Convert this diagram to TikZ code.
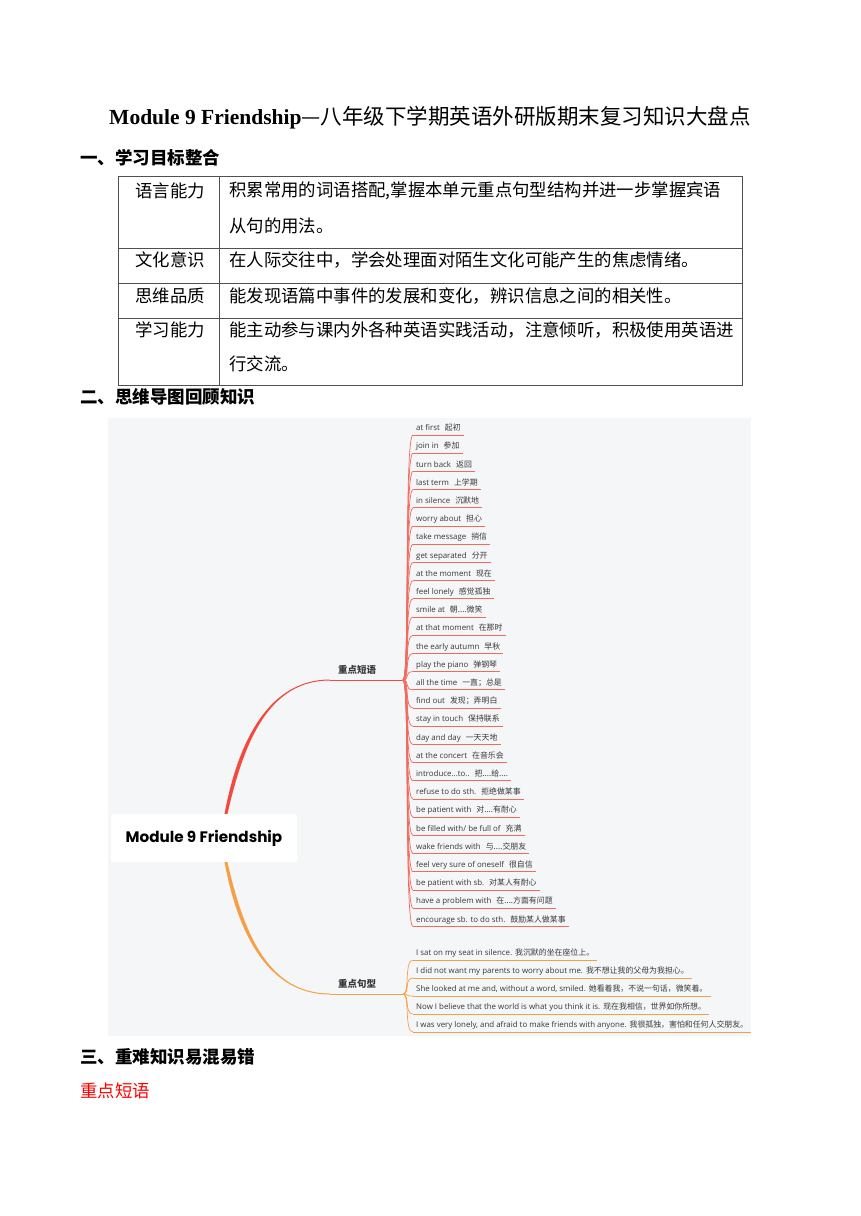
\documentclass[tikz,border=0pt]{standalone}
\usepackage{fontspec}
\setmainfont{Liberation Serif}
\newfontfamily\cjk{Noto Sans CJK SC}
\newfontfamily\mapsans{Open Sans}
\newfontfamily\hubsans{Poppins}
\definecolor{mapred}{HTML}{F24A3E}
\definecolor{mapredlt}{HTML}{F3695E}
\definecolor{maporange}{HTML}{F5A047}
\definecolor{mapbg}{HTML}{F5F6F8}
\definecolor{maptext}{HTML}{383838}
\definecolor{gridline}{HTML}{505050}
\begin{document}
\begin{tikzpicture}[x=1pt, y=-1pt,
    heading/.style={anchor=west, inner sep=0pt, font=\cjk\bfseries\fontsize{17.5}{20}\selectfont},
    cell/.style={anchor=west, inner sep=0pt, font=\cjk\fontsize{17.4}{20}\selectfont},
    hub/.style={fill=white, rounded corners=2pt, minimum width=186pt, minimum height=48pt,
      font=\hubsans\bfseries\fontsize{15.2}{17}\selectfont},
    branch/.style={anchor=south west, inner xsep=8pt, inner ysep=5pt, text=maptext,
      font=\cjk\bfseries\fontsize{9.5}{11}\selectfont},
    leaf/.style={anchor=south west, inner xsep=3pt, inner ysep=2.3pt, text height=5.8pt,
      text depth=1.8pt, text=maptext, font=\mapsans\fontsize{7.9}{9}\selectfont},
    twig/.style={line width=0.7pt}]
  \useasboundingbox (0,0) rectangle (860,1216);
  \fill[white] (0,0) rectangle (860,1216);

  % title and headings
  \node[font=\fontsize{21.5}{24}\selectfont] (title) at (430,118)
    {\textbf{Module 9 Friendship}{\cjk —八年级下学期英语外研版期末复习知识大盘点}};
  \node[heading] (h1) at (80,158) {一、学习目标整合};
  \node[heading] (h2) at (80,397) {二、思维导图回顾知识};
  \node[heading] (h3) at (80,1057) {三、重难知识易混易错};
  \node[cell, text=red] (sub) at (80,1091) {重点短语};

  % goals table
  \draw[gridline, line width=0.8pt] (118,176) rectangle (742,385);
  \draw[gridline, line width=0.8pt] (219,176) -- (219,385)
    (118,248) -- (742,248) (118,283) -- (742,283) (118,318) -- (742,318);
  \node[cell] (k1) at (135,191) {语言能力};
  \node[cell] (k2) at (135,260) {文化意识};
  \node[cell] (k3) at (135,296) {思维品质};
  \node[cell] (k4) at (135,330) {学习能力};
  \node[cell] (v1a) at (229,191) {积累常用的词语搭配,掌握本单元重点句型结构并进一步掌握宾语};
  \node[cell] (v1b) at (229,226) {从句的用法。};
  \node[cell] (v2) at (229,260) {在人际交往中，学会处理面对陌生文化可能产生的焦虑情绪。};
  \node[cell] (v3) at (229,296) {能发现语篇中事件的发展和变化，辨识信息之间的相关性。};
  \node[cell] (v4a) at (229,330) {能主动参与课内外各种英语实践活动，注意倾听，积极使用英语进};
  \node[cell] (v4b) at (229,364) {行交流。};

  % mind map
  \fill[mapbg] (108,418) rectangle (751,1036);
  \node[hub] (hub) at (204,838) {Module 9 Friendship};
  \node[branch] (ph) at (330,680) {重点短语};
  \node[branch] (sp) at (330,994) {重点句型};
  \coordinate (phfan) at (403,680);
  \coordinate (spfan) at (403,994);
  \fill[mapred] ([xshift=20.5pt]hub.north) .. controls +(14,-75) and +(-60,0) .. ([yshift=0.5pt]ph.south west)
    -- ([yshift=-0.5pt]ph.south west) .. controls +(-60,0) and +(17,-75) .. ([xshift=23.5pt]hub.north) -- cycle;
  \fill[maporange] ([xshift=20.5pt]hub.south) .. controls +(14,75) and +(-60,0) .. ([yshift=-0.5pt]sp.south west)
    -- ([yshift=0.5pt]sp.south west) .. controls +(-60,0) and +(17,75) .. ([xshift=23.5pt]hub.south) -- cycle;
  \draw[mapred, line width=1pt] (ph.south west) -- (phfan);
  \draw[maporange, line width=1pt] (sp.south west) -- (spfan);

  \foreach \eng/\chn [count=\i] in {at first/起初, join in/参加, turn back/返回, last term/上学期,
      in silence/沉默地, worry about/担心, take message/捎信, get separated/分开, at the moment/现在,
      feel lonely/感觉孤独, smile at/{朝....微笑}, at that moment/在那时, the early autumn/早秋,
      play the piano/弹钢琴, all the time/一直；总是, find out/发现；弄明白, stay in touch/保持联系,
      day and day/一天天地, at the concert/在音乐会, {introduce...to..}/{把....给....},
      refuse to do sth./拒绝做某事, be patient with/{对....有耐心}, {be filled with/ be full of}/充满,
      wake friends with/{与....交朋友}, feel very sure of oneself/很自信, be patient with sb./对某人有耐心,
      have a problem with/{在....方面有问题}, encourage sb. to do sth./鼓励某人做某事} {
    \node[leaf] (p\i) at (413, {435+18.2*(\i-1)}) {\eng\hspace{5pt}{\cjk\chn}};
    \draw[twig, mapredlt] (p\i.south west) -- (p\i.south east);
    \draw[twig, mapredlt] (phfan) .. controls +(7,0) and +(-9,0) .. (p\i.south west);
  }

  \foreach \eng/\chn [count=\i] in {{I sat on my seat in silence.}/我沉默的坐在座位上。,
      {I did not want my parents to worry about me.}/我不想让我的父母为我担心。,
      {She looked at me and, without a word, smiled.}/她看着我，不说一句话，微笑着。,
      {Now I believe that the world is what you think it is.}/现在我相信，世界如你所想。,
      {I was very lonely, and afraid to make friends with anyone.}/我很孤独，害怕和任何人交朋友。} {
    \node[leaf] (s\i) at (413, {960+18*(\i-1)}) {\eng\hspace{3pt}{\cjk\chn}};
    \draw[twig, maporange] (s\i.south west) -- (s\i.south east);
    \draw[twig, maporange] (spfan) .. controls +(7,0) and +(-9,0) .. (s\i.south west);
  }
\end{tikzpicture}
\end{document}
